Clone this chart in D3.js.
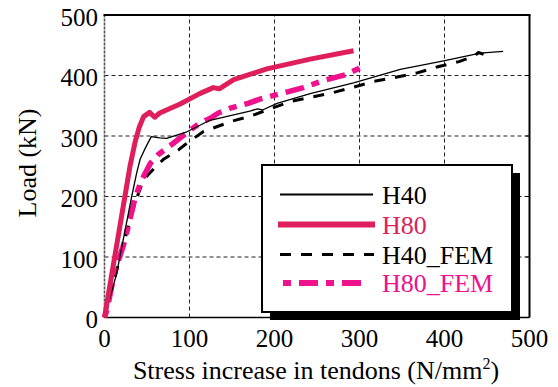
<!DOCTYPE html>
<html lang="en">
<head>
  <meta charset="UTF-8">
  <title>Load vs stress increase</title>
  <style>
    body { margin: 0; background: #fff; }
    svg text { font-family: "Liberation Serif", "Times New Roman", serif; }
  </style>
</head>
<body>
  <svg id="chart" width="558" height="387"></svg>
  <script src="https://d3js.org/d3.v7.min.js"></script>
  <script>
    // tick values for both axes
    const xTicks = [0, 100, 200, 300, 400, 500];
    const yTicks = [0, 100, 200, 300, 400, 500];

    // [stress increase (N/mm2), load (kN)]
    const h40 = [[0,0],[14,71],[32,200],[38,240],[42,262],[48,280],[55,299],[65,297],[73,296],
      [97,307],[124,326],[171,341],[180,345],[186,343],[203,354],[242,370],[293,388],[348,410],
      [399,424],[442,437],[469,440]];
    const h80 = [[0,0],[12,100],[24,200],[30,250],[36,290],[41,315],[46,332],[53,339],[59,331],
      [65,338],[89,353],[112,370],[128,380],[135,378],[152,393],[191,411],[242,427],[293,441]];
    const h40Fem = [[0,0],[13,70],[26,140],[36,190],[42,213],[46,228],[61,250],[69,261],[87,277],
      [95,286],[116,307],[151,325],[170,332],[191,343],[219,357],[267,371],[291,380],[316,390],
      [343,397],[367,404],[391,414],[417,423],[435,432],[440,438],[446,435]];
    const h80Fem = [[0,0],[3,13],[12,76],[22,118],[28,151],[36,198],[44,228],[54,255],[63,269],
      [81,288],[101,310],[112,321],[124,329],[134,338],[148,346],[169,354],[185,362],[207,370],
      [234,380],[258,392],[283,401],[300,412],[307,417]];

    const seriesNames = ["H40", "H80", "H40_FEM", "H80_FEM"];

    const svg = d3.select("#chart");
    const x = d3.scaleLinear().domain([0, 500]).range([104.5, 529.5]);
    const y = d3.scaleLinear().domain([0, 500]).range([317.5, 15]);

    // dashed grid
    svg.append("g").selectAll("line")
      .data(yTicks.filter(d => d > 0 && d < 500))
      .join("line")
      .attr("x1", x(0)).attr("x2", x(500))
      .attr("y1", d => y(d)).attr("y2", d => y(d))
      .attr("stroke", "#222").attr("stroke-width", 1).attr("stroke-dasharray", "4,3");

    svg.append("g").selectAll("line")
      .data(xTicks.filter(d => d > 0 && d < 500))
      .join("line")
      .attr("y1", y(0)).attr("y2", y(500))
      .attr("x1", d => x(d)).attr("x2", d => x(d))
      .attr("stroke", "#222").attr("stroke-width", 1).attr("stroke-dasharray", "4,3");

    // frame
    svg.append("line").attr("x1", x(0)).attr("x2", x(0)).attr("y1", y(0)).attr("y2", y(500))
      .attr("stroke", "#555").attr("stroke-width", 1.6).attr("stroke-dasharray", "3,1");
    svg.append("line").attr("x1", x(0)).attr("x2", x(500)).attr("y1", y(0)).attr("y2", y(0))
      .attr("stroke", "#000").attr("stroke-width", 1.5);
    svg.append("line").attr("x1", x(0) - 1).attr("x2", x(500) + 1).attr("y1", y(500)).attr("y2", y(500))
      .attr("stroke", "#000").attr("stroke-width", 2);
    svg.append("line").attr("x1", x(500)).attr("x2", x(500)).attr("y1", y(500)).attr("y2", y(0))
      .attr("stroke", "#000").attr("stroke-width", 2);

    // small inward ticks on the right edge
    svg.append("g").selectAll("line")
      .data(yTicks.filter(d => d > 0 && d < 500))
      .join("line")
      .attr("x1", x(500) - 4).attr("x2", x(500))
      .attr("y1", d => y(d)).attr("y2", d => y(d))
      .attr("stroke", "#000").attr("stroke-width", 1);

    // tick labels
    svg.append("g").selectAll("text")
      .data(yTicks)
      .join("text")
      .attr("x", 98).attr("y", d => y(d) + 2)
      .attr("dy", "0.35em")
      .attr("text-anchor", "end")
      .attr("font-size", 25)
      .text(d => d);

    svg.append("g").selectAll("text")
      .data(xTicks)
      .join("text")
      .attr("x", d => x(d)).attr("y", 347)
      .attr("text-anchor", "middle")
      .attr("font-size", 25)
      .text(d => d);

    // axis titles
    const xt = svg.append("text")
      .attr("x", 316).attr("y", 379)
      .attr("text-anchor", "middle")
      .attr("font-size", 26);
    xt.append("tspan").text("Stress increase in tendons (N/mm");
    xt.append("tspan").attr("font-size", 16).attr("dy", -10).text("2");
    xt.append("tspan").attr("dy", 10).text(")");

    svg.append("text")
      .attr("transform", "translate(36,163) rotate(-90)")
      .attr("text-anchor", "middle")
      .attr("font-size", 26)
      .text("Load (kN)");

    // series
    const styles = [
      { data: h40Fem, color: "#000", width: 3, dash: "11,10" },
      { data: h80Fem, color: "#F0118C", width: 5.5, dash: "8,8,19,8" },
      { data: h40, color: "#000", width: 1.3, dash: null },
      { data: h80, color: "#DE1F5B", width: 5, dash: null }
    ];

    const line = d3.line().x(d => x(d[0])).y(d => y(d[1]));

    styles.forEach(s => {
      svg.append("path")
        .datum(s.data)
        .attr("fill", "none")
        .attr("stroke", s.color)
        .attr("stroke-width", s.width)
        .attr("stroke-dasharray", s.dash)
        .attr("stroke-linejoin", "round")
        .attr("d", line);
    });

    // legend with drop shadow
    const lg = svg.append("g");
    lg.append("rect").attr("x", 270).attr("y", 173).attr("width", 250).attr("height", 147).attr("fill", "#000");
    lg.append("rect").attr("x", 262).attr("y", 165).attr("width", 250).attr("height", 147)
      .attr("fill", "#fff").attr("stroke", "#000").attr("stroke-width", 2);

    const legendItems = [
      { name: seriesNames[0], color: "#000", text: "#000", width: 1.8, dash: null, x1: 280, x2: 373 },
      { name: seriesNames[1], color: "#DE1F5B", text: "#DE1F5B", width: 6, dash: null, x1: 278, x2: 375 },
      { name: seriesNames[2], color: "#000", text: "#000", width: 3, dash: "11,10", x1: 280, x2: 374 },
      { name: seriesNames[3], color: "#F0118C", text: "#F0118C", width: 6, dash: "8,8,19,8", x1: 283, x2: 361 }
    ];
    const rowY = [194.5, 224.5, 254.5, 283];

    legendItems.forEach((d, i) => {
      lg.append("line")
        .attr("x1", d.x1).attr("x2", d.x2)
        .attr("y1", rowY[i]).attr("y2", rowY[i])
        .attr("stroke", d.color).attr("stroke-width", d.width)
        .attr("stroke-dasharray", d.dash);
      lg.append("text")
        .attr("x", 382).attr("y", rowY[i] + 9)
        .attr("font-size", 26)
        .attr("fill", d.text)
        .text(d.name);
    });
  </script>
</body>
</html>
